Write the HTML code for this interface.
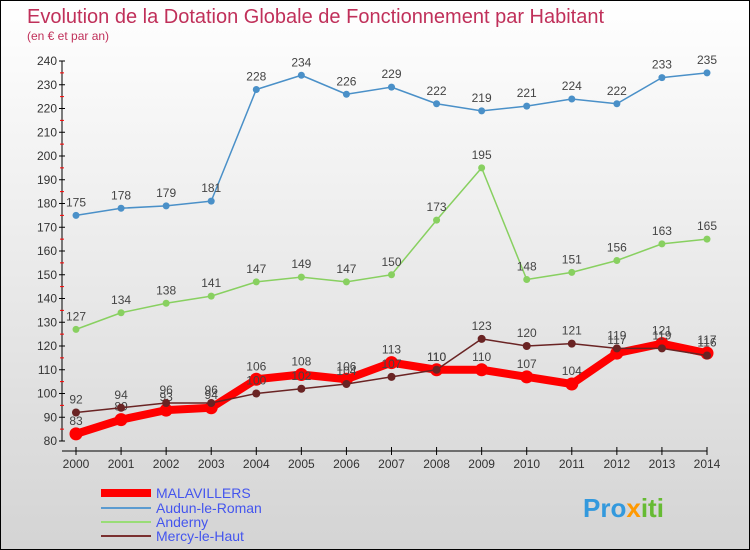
<!DOCTYPE html>
<html><head><meta charset="utf-8"><style>
body{margin:0;}
#c{width:748px;height:548px;border:1px solid #000;position:relative;background:linear-gradient(#fff,#d4d4d4);font-family:"Liberation Sans",sans-serif;overflow:hidden}
svg text{font-family:"Liberation Sans",sans-serif}
</style></head><body>
<div id="c">
<svg id="s" width="748" height="548">
<text x="26" y="22" font-size="20" fill="#c0305a">Evolution de la Dotation Globale de Fonctionnement par Habitant</text>
<text x="26" y="39" font-size="12" fill="#c0305a">(en € et par an)</text>
<g>
<line x1="100" y1="492" x2="150" y2="492" stroke="#f00" stroke-width="8"/>
<text x="155" y="497" font-size="14" fill="#4455ee">MALAVILLERS</text>
<line x1="100" y1="507" x2="150" y2="507" stroke="#5b9bd0" stroke-width="2"/>
<text x="155" y="512" font-size="14" fill="#4455ee">Audun-le-Roman</text>
<line x1="100" y1="521" x2="150" y2="521" stroke="#99dd77" stroke-width="2"/>
<text x="155" y="526" font-size="14" fill="#4455ee">Anderny</text>
<line x1="100" y1="535" x2="150" y2="535" stroke="#7a3030" stroke-width="2"/>
<text x="155" y="540" font-size="14" fill="#4455ee">Mercy-le-Haut</text>
</g>
<text x="582" y="516" font-size="26" font-weight="bold"><tspan fill="#3399dd">Pro</tspan><tspan fill="#ff9900">x</tspan><tspan fill="#66bb33">iti</tspan></text>
</svg></div>
<script>
const years=[2000,2001,2002,2003,2004,2005,2006,2007,2008,2009,2010,2011,2012,2013,2014];
const yTicks=[80,90,100,110,120,130,140,150,160,170,180,190,200,210,220,230,240];
const audun=[175,178,179,181,228,234,226,229,222,219,221,224,222,233,235];
const anderny=[127,134,138,141,147,149,147,150,173,195,148,151,156,163,165];
const malavillers=[83,89,93,94,106,108,106,113,110,110,107,104,117,121,117];
const mercy=[92,94,96,96,100,102,104,107,110,123,120,121,119,119,116];
const s=document.getElementById('s');const NS='http://www.w3.org/2000/svg';
const X=i=>75+i*(706-75)/(years.length-1);
const Y=v=>440-(v-80)*380/160;
function el(t,a,p){const e=document.createElementNS(NS,t);for(const k in a)e.setAttribute(k,a[k]);(p||s).appendChild(e);return e;}
const ax=el('g',{});


el('line',{x1:61,y1:60,x2:61,y2:440,stroke:'#000'},ax);
el('line',{x1:61,y1:450,x2:706,y2:450,stroke:'#000'},ax);
yTicks.forEach(v=>{el('line',{x1:58,y1:Y(v),x2:64,y2:Y(v),stroke:'#000'},ax);
if(v<240)el('line',{x1:59,y1:Y(v+5),x2:63,y2:Y(v+5),stroke:'#f00'},ax);
const t=el('text',{x:56,y:Y(v)+4,'font-size':12,'text-anchor':'end',fill:'#333'},ax);t.textContent=v;

});
years.forEach((y,i)=>{el('line',{x1:X(i),y1:446,x2:X(i),y2:454,stroke:'#000'},ax);
const t=el('text',{x:X(i),y:467,'font-size':12,'text-anchor':'middle',fill:'#333'},ax);t.textContent=y;

});
function series(d,col,w,r,name){const g=el('g',{});


el('polyline',{points:d.map((v,i)=>X(i)+','+Y(v)).join(' '),fill:'none',stroke:col,'stroke-width':w,'stroke-linejoin':'round'},g);
d.forEach((v,i)=>{const c=el('circle',{cx:X(i),cy:Y(v),r:r,fill:col},g);


const t=el('text',{x:X(i),y:Y(v)-9,'font-size':12,'text-anchor':'middle',fill:'#444'},g);t.textContent=v;

});}
series(audun,'#4a90c8',1.5,3.5,'series-audun');
series(anderny,'#88d060',1.5,3.5,'series-anderny');
series(malavillers,'#f00',8,6.5,'series-malavillers');
series(mercy,'#6a2424',1.5,4,'series-mercy');
</script></body></html>
